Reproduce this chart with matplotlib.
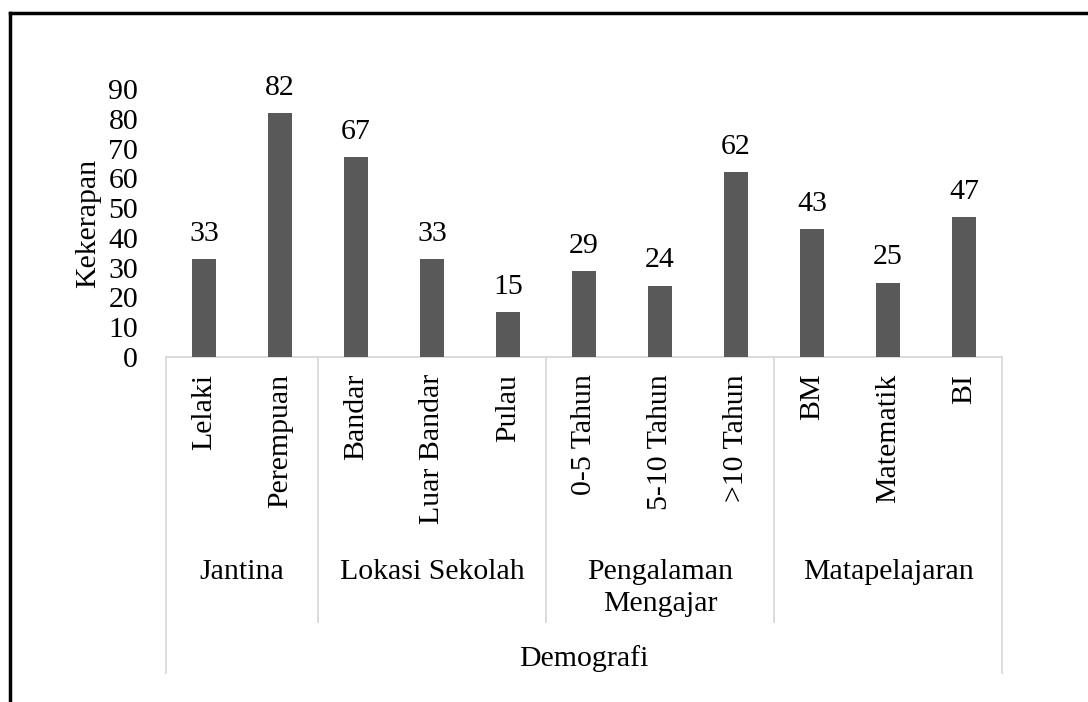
import matplotlib
matplotlib.use("Agg")
import matplotlib.pyplot as plt
from matplotlib.lines import Line2D

categories = ["Lelaki", "Perempuan", "Bandar", "Luar Bandar", "Pulau",
              "0-5 Tahun", "5-10 Tahun", ">10 Tahun", "BM", "Matematik", "BI"]
values = [33, 82, 67, 33, 15, 29, 24, 62, 43, 25, 47]
groups = ["Jantina", "Lokasi Sekolah", "Pengalaman\nMengajar", "Matapelajaran"]
group_sizes = [2, 3, 3, 3]
top_label = "Demografi"
y_label = "Kekerapan"
y_ticks = list(range(0, 91, 10))

plt.rcParams['font.family'] = ['Liberation Serif', 'DejaVu Serif']
FS = 21.5
BAR = "#595959"
GRID = "#d9d9d9"

W, H = 1088, 702
fig = plt.figure(figsize=(W / 100, H / 100), dpi=100)
left, right, bottom, top = 166, 1002, 357, 89
ax = fig.add_axes([left / W, 1 - bottom / H, (right - left) / W, (bottom - top) / H])

x = list(range(len(categories)))
bars = ax.bar(x, values, width=0.31, color=BAR, zorder=3)
for xi, v in zip(x, values):
    ax.annotate(str(v), (xi, v), xytext=(0, 13), textcoords="offset points",
                ha="center", va="baseline", fontsize=FS, color="black")

ax.set_xlim(-0.5, len(categories) - 0.5)
ax.set_ylim(0, 90)
ax.set_yticks(y_ticks)
ax.tick_params(axis="y", length=0, pad=20, labelsize=FS)
ax.set_xticks([])
for s in ax.spines.values():
    s.set_visible(False)
ax.set_ylabel(y_label, fontsize=FS, labelpad=5)

def yfrac(px):
    return -(px - bottom) / (bottom - top)

tr = ax.get_xaxis_transform()
# baseline
ax.add_line(Line2D([-0.5, len(categories) - 0.5], [0, 0], transform=tr,
                   color=GRID, lw=1.3, clip_on=False, zorder=2))
# category labels
for xi, c in zip(x, categories):
    ax.text(xi, yfrac(374), c, transform=tr, rotation=90, ha="center", va="top",
            fontsize=FS)
# group separators & labels
bounds = [-0.5]
for n in group_sizes:
    bounds.append(bounds[-1] + n)
for i, b in enumerate(bounds):
    end = 673 if i in (0, len(bounds) - 1) else 622
    ax.add_line(Line2D([b, b], [0, yfrac(end)], transform=tr, color=GRID,
                       lw=1.3, clip_on=False))
for g, a, b in zip(groups, bounds[:-1], bounds[1:]):
    ax.text((a + b) / 2, yfrac(559), g, transform=tr, ha="center", va="top",
            fontsize=FS, linespacing=1.3)
ax.text((bounds[0] + bounds[-1]) / 2, yfrac(659), top_label, transform=tr,
        ha="center", va="center", fontsize=FS)

# chart border (top and left visible)
fig.add_artist(Line2D([9.5 / W, 1.0], [1 - 12.5 / H, 1 - 12.5 / H], color="black", lw=2.5))
fig.add_artist(Line2D([9.5 / W, 9.5 / W], [0, 1 - 12.5 / H], color="black", lw=2.5))

fig.savefig("out.png", dpi=100)
